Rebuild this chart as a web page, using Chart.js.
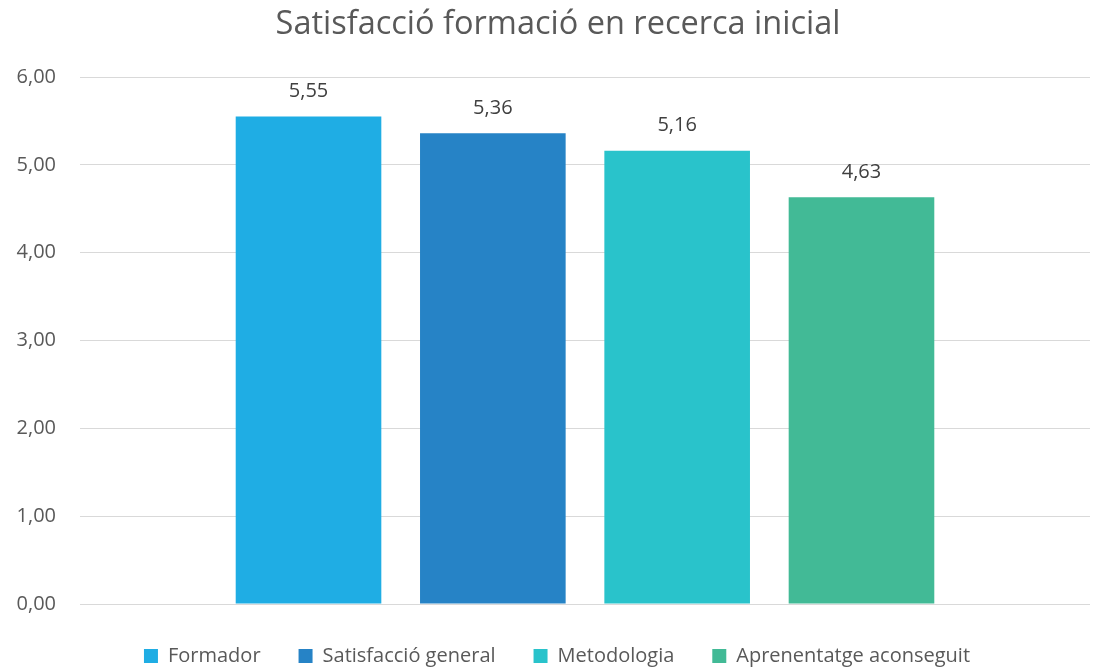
<!DOCTYPE html>
<html>
<head>
<meta charset="utf-8">
<script src="https://cdn.jsdelivr.net/npm/chart.js@4"></script>
<style>
  html, body { margin: 0; padding: 0; background: #fff; }
  #wrap { width: 1096px; height: 668px; }
</style>
</head>
<body>
<div id="wrap"><canvas id="chart"></canvas></div>
<script>
// data
var categories = [''];
var seriesNames = ['Formador', 'Satisfacció general', 'Metodologia', 'Aprenentatge aconseguit'];
var seriesValues = [5.55, 5.36, 5.16, 4.63];
var seriesColors = ['#1FADE4', '#2683C6', '#29C3CB', '#42BA96'];

const FONT = '"Open Sans", "Noto Sans", sans-serif';

function fmt(v) { return v.toFixed(2).replace('.', ','); }

// draws the value above each bar
const valueLabels = {
  id: 'valueLabels',
  afterDatasetsDraw(chart) {
    const c = chart.ctx;
    c.save();
    c.font = '20px ' + FONT;
    c.fillStyle = '#404040';
    c.textAlign = 'center';
    c.textBaseline = 'middle';
    chart.data.datasets.forEach((ds, i) => {
      chart.getDatasetMeta(i).data.forEach((bar, j) => {
        c.fillText(fmt(ds.data[j]), bar.x, bar.y - 25);
      });
    });
    c.restore();
  }
};

// fixed legend height, then nudge legend and title like the original
const legendPlace = {
  id: 'legendPlace',
  beforeInit(chart) {
    const lg = chart.legend;
    if (!lg) return;
    const fit = lg.fit;
    lg.fit = function () { fit.call(this); this.height = 64; };
  },
  afterLayout(chart) {
    const lg = chart.legend;
    if (lg) {
      lg.top += 4; lg.bottom += 4;
      lg.left += 12; lg.right += 12;
    }
    const tb = chart.titleBlock;
    if (tb) { tb.left += 13; tb.right += 13; }
  }
};

const datasets = seriesNames.map((name, i) => ({
  label: name,
  data: [seriesValues[i]],
  backgroundColor: seriesColors[i],
  categoryPercentage: 0.73,
  barPercentage: 0.79
}));

new Chart(document.getElementById('chart'), {
  type: 'bar',
  data: { labels: categories, datasets: datasets },
  plugins: [valueLabels, legendPlace],
  options: {
    responsive: true,
    maintainAspectRatio: false,
    animation: false,
    layout: { padding: { left: 0, right: 6, top: 0, bottom: 0 } },
    plugins: {
      title: {
        display: true,
        text: 'Satisfacció formació en recerca inicial',
        color: '#595959',
        font: { family: FONT, size: 32.5, weight: 'normal' },
        padding: { top: 5, bottom: 33 }
      },
      legend: {
        position: 'bottom',
        labels: {
          color: '#595959',
          font: { family: FONT, size: 20 },
          boxWidth: 14,
          boxHeight: 14,
          padding: 38
        }
      },
      tooltip: { enabled: false }
    },
    scales: {
      x: { display: false },
      y: {
        min: 0,
        max: 6,
        ticks: {
          stepSize: 1,
          color: '#595959',
          font: { family: FONT, size: 20 },
          padding: 24,
          callback: v => fmt(v)
        },
        grid: { color: '#D9D9D9', lineWidth: 1, drawTicks: false },
        border: { display: false },
        afterFit(scale) { scale.width = 80; }
      }
    }
  }
});
</script>
</body>
</html>
